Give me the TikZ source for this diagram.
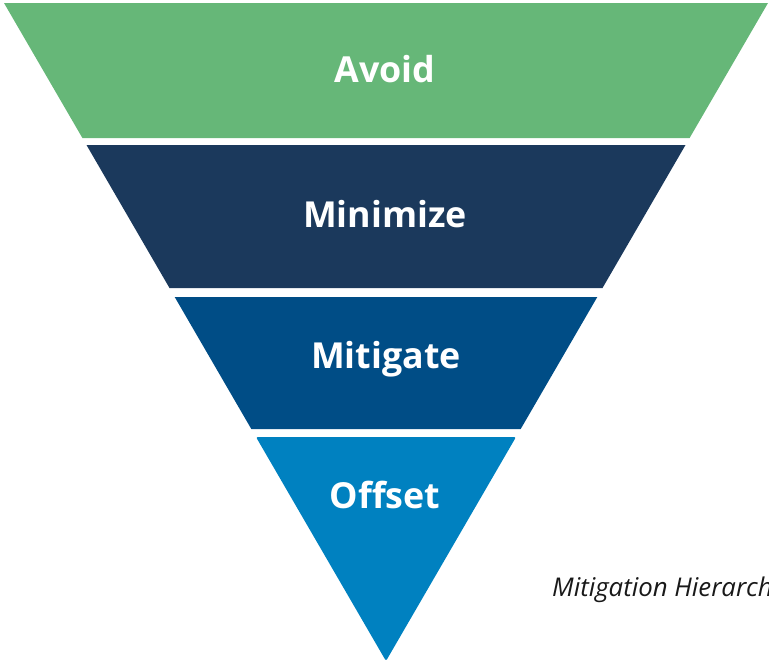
\documentclass[tikz,border=0pt]{standalone}
\usepackage{fontspec}
\setmainfont{Open Sans}
\definecolor{avoidgreen}{HTML}{66B778}
\definecolor{minnavy}{HTML}{1B395C}
\definecolor{mitblue}{HTML}{004D86}
\definecolor{offblue}{HTML}{0081C0}
\tikzset{
  bandlabel/.style={text=white, font=\fontsize{35.8}{42}\selectfont\bfseries, anchor=base, inner sep=0pt},
  caption/.style={text=black!90, font=\fontsize{25.8}{30}\selectfont\itshape, anchor=base west, inner sep=0pt}
}
\begin{document}
\begin{tikzpicture}[x=1pt, y=1pt]
\useasboundingbox (0,0) rectangle (769,-665);
% the four bands of the inverted pyramid
\fill [avoidgreen] (4,-3) -- (768,-3) -- (689.6,-138) -- (82.4,-138) -- cycle;
\fill [minnavy] (86.5,-145) -- (685.5,-145) -- (602.5,-288) -- (169.5,-288) -- cycle;
\fill [mitblue] (174.7,-297) -- (597.3,-297) -- (520.7,-429) -- (251.3,-429) -- cycle;
\fill [offblue, rounded corners=2pt] (256,-437) -- (516,-437) -- (386,-661) -- cycle;
% labels
\node [bandlabel] (avoid) at (385,-82) {Avoid};
\node [bandlabel] (minimize) at (385,-227) {Minimize};
\node [bandlabel] (mitigate) at (386,-368) {Mitigate};
\node [bandlabel] (offset) at (385,-508) {Offset};
\node [caption] (hierarchy) at (552,-596) {Mitigation Hierarchy};
\end{tikzpicture}
\end{document}
